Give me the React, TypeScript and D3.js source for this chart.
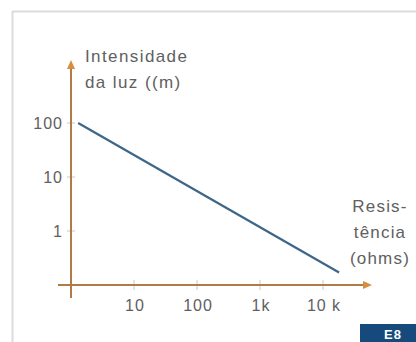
import React from "react";
import * as d3 from "d3";

const resistance = [1.3, 18000];
const intensity = [100, 0.17];
const xTickValues = [10, 100, 1000, 10000];
const xTickLabels = ["10", "100", "1k", "10 k"];
const yTickValues = [100, 10, 1];
const yTickLabels = ["100", "10", "1"];
const yTitle = ["Intensidade", "da luz ((m)"];
const xTitle = ["Resis-", "tência", "(ohms)"];
const badge = "E8";

const W = 416;
const H = 342;

export default function App() {
  const x = d3.scaleLog().domain([1, 10000]).range([71, 323]);
  const y = d3.scaleLog().domain([0.1, 100]).range([285, 123]);
  const pts: [number, number][] = resistance.map((r, i) => [r, intensity[i]]);
  const line = d3
    .line<[number, number]>()
    .x((d) => x(d[0]))
    .y((d) => y(d[1]));
  const axisColor = "#b27a45";
  const arrowColor = "#d98c3a";
  const textColor = "#606060";
  const font = "'Liberation Sans', Arial, Helvetica, sans-serif";
  const x0 = x(1);
  const y0 = y(0.1);
  return (
    <svg
      width={W}
      height={H}
      style={{ position: "absolute", left: 0, top: 0, background: "#fff" }}
      fontFamily={font}
    >
      <rect x={0} y={0} width={W} height={H} fill="#ffffff" />
      {/* frame */}
      <line x1={12} y1={11.5} x2={W} y2={11.5} stroke="#dcdcdc" strokeWidth={2} />
      <line x1={12.5} y1={11} x2={12.5} y2={H} stroke="#dcdcdc" strokeWidth={2} />

      {/* y ticks */}
      {yTickValues.map((v, i) => (
        <g key={"yt" + i}>
          <line x1={x0 - 4} x2={x0 + 4} y1={y(v)} y2={y(v)} stroke="#c8c8c8" strokeWidth={1} />
          <text
            x={63}
            y={y(v)}
            dy="0.36em"
            textAnchor="end"
            fontSize={16}
            letterSpacing={1}
            fill={textColor}
          >
            {yTickLabels[i]}
          </text>
        </g>
      ))}
      {/* x ticks */}
      {xTickValues.map((v, i) => (
        <g key={"xt" + i}>
          <line x1={x(v)} x2={x(v)} y1={y0 - 5} y2={y0 + 5} stroke="#c8c8c8" strokeWidth={1} />
          <text
            x={x(v) + 1}
            y={311}
            textAnchor="middle"
            fontSize={16}
            letterSpacing={1}
            fill={textColor}
          >
            {xTickLabels[i]}
          </text>
        </g>
      ))}

      {/* axes */}
      <line x1={x0} y1={298} x2={x0} y2={66} stroke={axisColor} strokeWidth={2} />
      <path d={`M${x0},60 L${x0 - 4},69 L${x0 + 4},69 Z`} fill={arrowColor} />
      <line x1={58} y1={y0} x2={365} y2={y0} stroke={axisColor} strokeWidth={2} />
      <path d={`M372,${y0} L363,${y0 - 4} L363,${y0 + 4} Z`} fill={arrowColor} />

      {/* data line */}
      <path d={line(pts) || ""} fill="none" stroke="#3d6688" strokeWidth={2.2} />

      {/* titles */}
      {yTitle.map((t, i) => (
        <text
          key={"ytl" + i}
          x={85}
          y={62 + i * 26}
          fontSize={17}
          letterSpacing={1.4}
          fill={textColor}
        >
          {t}
        </text>
      ))}
      {xTitle.map((t, i) => (
        <text
          key={"xtl" + i}
          x={380}
          y={212 + i * 26}
          textAnchor="middle"
          fontSize={17}
          letterSpacing={1.2}
          fill={textColor}
        >
          {t}
        </text>
      ))}

      {/* badge */}
      <rect x={360} y={324} width={56} height={18} fill="#174a7c" />
      <text x={384} y={339} fontSize={13} fontWeight="bold" fill="#ffffff" letterSpacing={1}>
        {badge}
      </text>
    </svg>
  );
}
